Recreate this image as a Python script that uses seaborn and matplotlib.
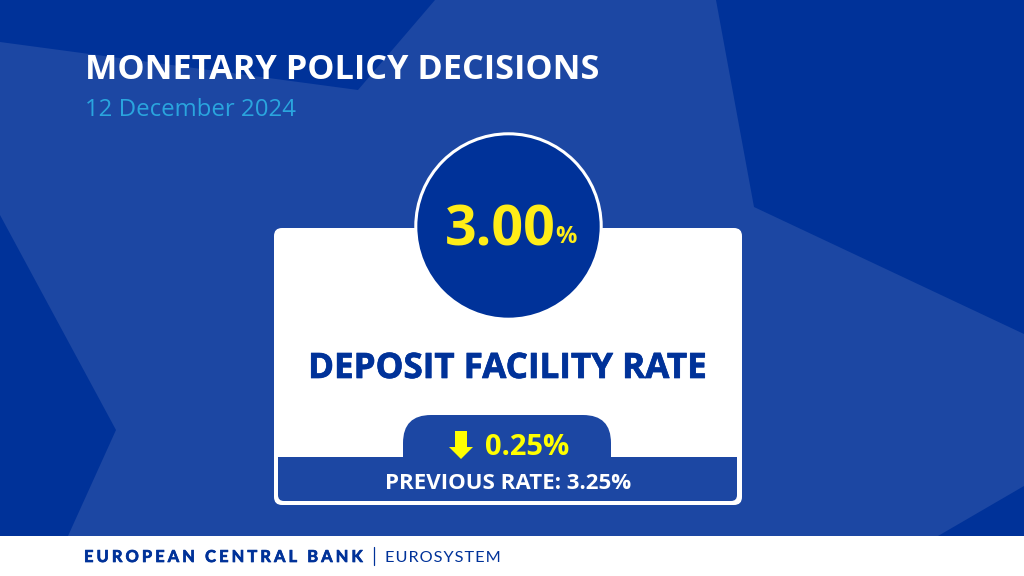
import matplotlib
matplotlib.use('Agg')
import matplotlib.pyplot as plt
import matplotlib.patheffects as pe
from matplotlib.patches import Polygon, Rectangle, FancyBboxPatch, PathPatch
from matplotlib.path import Path
import seaborn as sns

sns.set_theme(style='white')
plt.rcParams['font.family'] = ['Open Sans', 'DejaVu Sans']

HEADING = 'MONETARY POLICY DECISIONS'
MEETING_DATE = '12 December 2024'
RATE_NAME = 'DEPOSIT FACILITY RATE'
CURRENT_RATE = [3.00]
PREVIOUS_RATE = [3.25]
RATE_CHANGE = [0.25]
BANK = 'EUROPEAN CENTRAL BANK'
SYSTEM = 'EUROSYSTEM'

DARK = '#003299'
LIGHT = '#1c47a3'
YELLOW = '#ffed17'
ARROW_YELLOW = '#ffff00'
SKY = '#2aa5de'


def fatten(width, color):
    # the reference faces are a little heavier than Open Sans Bold
    return [pe.withStroke(linewidth=width, foreground=color)]


fig = plt.figure(figsize=(10.24, 5.76), dpi=100)
ax = fig.add_axes([0, 0, 1, 1])

# background star
ax.add_patch(Rectangle((0, 0), 1024, 536, fc=DARK, ec='none', zorder=0))
star = [(0, 42), (358, 90), (435, 0), (716, 0), (754, 207), (1024, 334),
        (1024, 486), (938, 536), (68, 536), (116, 430), (0, 215)]
ax.add_patch(Polygon(star, closed=True, fc=LIGHT, ec='none', zorder=1))

# card
ax.add_patch(FancyBboxPatch((274, 228), 468, 277, boxstyle='round,pad=0,rounding_size=8',
                            fc='white', ec='none', zorder=2))

# bottom panel with the tab on top
M, L, C = Path.MOVETO, Path.LINETO, Path.CURVE3
verts = [(278, 457), (403, 457), (403, 443), (403, 415), (431, 415), (583, 415),
         (611, 415), (611, 443), (611, 457), (737, 457), (737, 495), (737, 501),
         (731, 501), (284, 501), (278, 501), (278, 495), (278, 457)]
codes = [M, L, L, C, C, L, C, C, L, L, L, C, C, L, C, C, L]
ax.add_patch(PathPatch(Path(verts, codes), fc=LIGHT, ec='none', zorder=3))

# circle with the current rate
sns.scatterplot(x=[507.5], y=[226], s=133.5 ** 2, color=DARK, edgecolor='white',
                linewidth=2.2, ax=ax, zorder=4, legend=False)
ax.set_xlim(0, 1024)
ax.set_ylim(576, 0)
ax.axis('off')

ax.text(445, 245, f'{CURRENT_RATE[0]:.2f}', color=YELLOW, fontsize=40, fontweight='bold',
        ha='left', va='baseline', zorder=5)
ax.text(555, 243, '%', color=YELLOW, fontsize=17, fontweight='bold', ha='left', va='baseline', zorder=5)

# header
ax.text(85, 79, HEADING, color='white', fontsize=24.65, fontweight='bold', ha='left', va='baseline', zorder=5)
ax.text(85, 116, MEETING_DATE, color=SKY, fontsize=17.3, ha='left', va='baseline', zorder=5)

ax.text(507.5, 378, RATE_NAME, color=DARK, fontsize=25.2, fontweight='bold', ha='center', va='baseline',
        zorder=5, path_effects=fatten(0.5, DARK))

# change and previous rate
arrow = [(455, 431), (467, 431), (467, 447), (473, 447), (461, 459), (449, 447), (455, 447)]
ax.add_patch(Polygon(arrow, closed=True, fc=ARROW_YELLOW, ec='none', zorder=5))
ax.text(485, 455, f'{RATE_CHANGE[0]:.2f}%', color=ARROW_YELLOW, fontsize=21, fontweight='bold',
        ha='left', va='baseline', zorder=5)
ax.text(508, 489, f'PREVIOUS RATE: {PREVIOUS_RATE[0]:.2f}%', color='white', fontsize=16, fontweight='bold',
        ha='center', va='baseline', zorder=5)

# footer
ax.add_patch(Rectangle((0, 536), 1024, 40, fc='white', ec='none', zorder=2))
ax.text(84, 562, '\u2009\u200a'.join(BANK), color=DARK, fontsize=11.85, fontweight='bold',
        family=['Lato', 'DejaVu Sans'], ha='left', va='baseline', zorder=5, path_effects=fatten(0.5, DARK))
ax.plot([374, 374], [547, 565], color=DARK, lw=0.9, zorder=5)
ax.text(385, 562, '\u200a'.join(SYSTEM), color=DARK, fontsize=11.7,
        family=['Lato', 'DejaVu Sans'], ha='left', va='baseline', zorder=5)

fig.savefig('out.png', dpi=100)
